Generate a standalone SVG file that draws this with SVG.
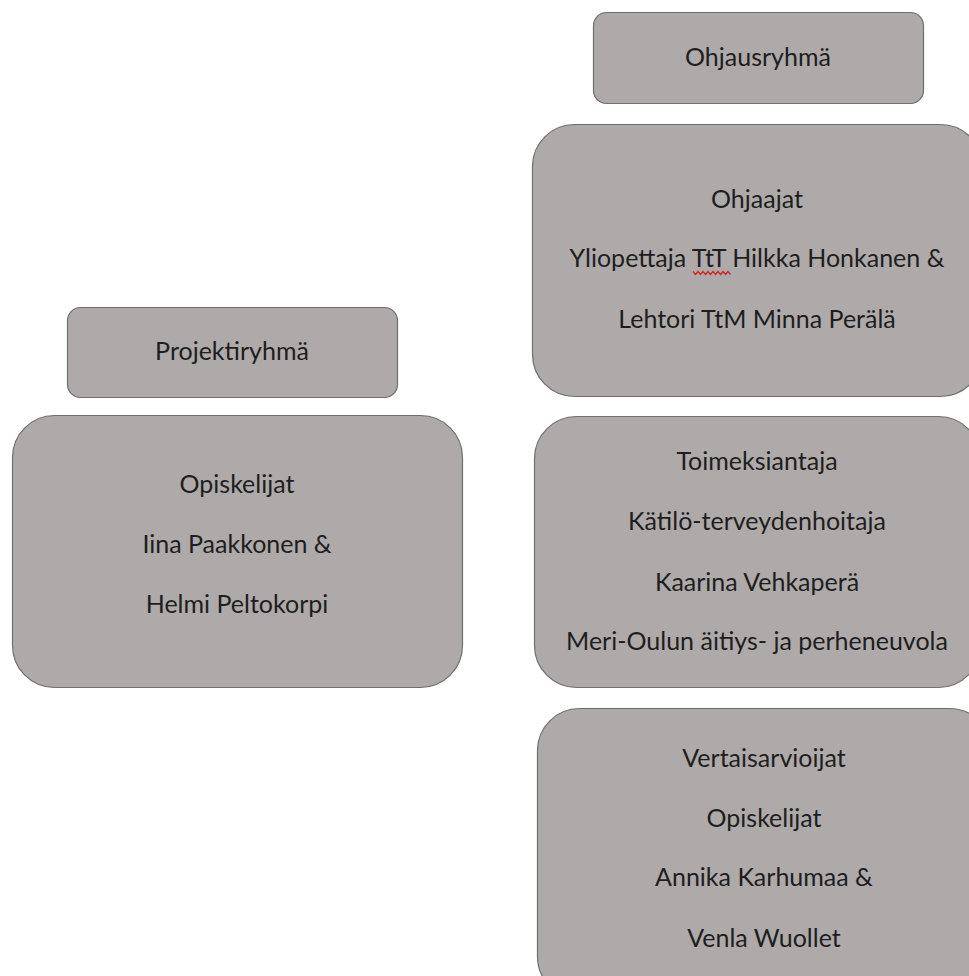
<svg xmlns="http://www.w3.org/2000/svg" width="969" height="976" viewBox="0 0 969 976">
<style>
.box{fill:#adaaa9;stroke:#6f6f6f;stroke-width:1.2}
text{font-family:Lato,"Noto Sans",sans-serif;font-size:25px;fill:#1e1e1e;text-anchor:middle}
.sq{fill:none;stroke:#d42020;stroke-width:1.2}
</style>
<rect width="969" height="976" fill="#ffffff"/>
<g id="connectors"></g>
<g id="ohjausryhma">
<rect class="box" x="593.5" y="12.5" width="330" height="91" rx="13"/>
<text x="758" y="66">Ohjausryhmä</text>
</g>
<g id="ohjaajat">
<rect class="box" x="532.5" y="124.5" width="450" height="272" rx="42"/>
<text x="757" y="208">Ohjaajat</text>
<text x="757" y="267">Yliopettaja TtT Hilkka Honkanen &amp;</text>
<text x="757" y="328">Lehtori TtM Minna Perälä</text>
<path class="sq" d="M693 271.5 l2.5 3 l2.5 -3 l2.5 3 l2.5 -3 l2.5 3 l2.5 -3 l2.5 3 l2.5 -3 l2.5 3 l2.5 -3 l2.5 3 l2.5 -3 l2.5 3 l2.5 -3 l2.5 3"/>
</g>
<g id="toimeksiantaja">
<rect class="box" x="534.5" y="416.5" width="446" height="271" rx="42"/>
<text x="757" y="470">Toimeksiantaja</text>
<text x="757" y="530">Kätilö-terveydenhoitaja</text>
<text x="757" y="591">Kaarina Vehkaperä</text>
<text x="757" y="650">Meri-Oulun äitiys- ja perheneuvola</text>
</g>
<g id="vertaisarvioijat">
<rect class="box" x="537.5" y="708.5" width="454" height="290" rx="42"/>
<text x="764" y="767">Vertaisarvioijat</text>
<text x="764" y="827">Opiskelijat</text>
<text x="764" y="886">Annika Karhumaa &amp;</text>
<text x="764" y="947">Venla Wuollet</text>
</g>
<g id="projektiryhma">
<rect class="box" x="67.5" y="307.5" width="330" height="90" rx="13"/>
<text x="232" y="360">Projektiryhmä</text>
</g>
<g id="opiskelijat">
<rect class="box" x="12.5" y="415.5" width="450" height="272" rx="42"/>
<text x="237" y="493">Opiskelijat</text>
<text x="237" y="553">Iina Paakkonen &amp;</text>
<text x="237" y="613">Helmi Peltokorpi</text>
</g>
</svg>
